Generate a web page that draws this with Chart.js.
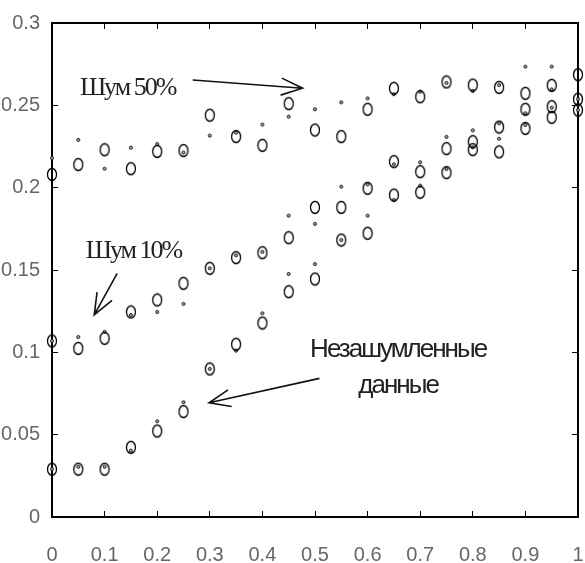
<!DOCTYPE html>
<html lang="ru">
<head>
<meta charset="UTF-8">
<title>Шум</title>
<script src="https://cdn.jsdelivr.net/npm/chart.js@4"></script>
<style>
  html, body { margin: 0; padding: 0; background: #fff; }
  #wrap { width: 585px; height: 563px; }
</style>
</head>
<body>
<div id="wrap"><canvas id="chart" width="585" height="563"></canvas></div>
<script>
const xs = [0, 0.05, 0.1, 0.15, 0.2, 0.25, 0.3, 0.35, 0.4, 0.45, 0.5,
            0.55, 0.6, 0.65, 0.7, 0.75, 0.8, 0.85, 0.9, 0.95, 1];

// open circles
const noise50 = [0.208, 0.214, 0.223, 0.2115, 0.222, 0.2225, 0.244, 0.231, 0.2257, 0.251, 0.235,
                 0.231, 0.2476, 0.2603, 0.2552, 0.2642, 0.2623, 0.2609, 0.2573, 0.2621, 0.2686];
const noise10 = [0.1069, 0.1024, 0.1085, 0.1245, 0.1318, 0.1419, 0.151, 0.1575, 0.1605, 0.1696, 0.188,
                 0.188, 0.1996, 0.2158, 0.2097, 0.2237, 0.2279, 0.2368, 0.2476, 0.2492, 0.2537];
const clean = [0.029, 0.029, 0.029, 0.0423, 0.0522, 0.064, 0.0899, 0.1049, 0.1178, 0.1368, 0.1445,
               0.1682, 0.1723, 0.1955, 0.1972, 0.2091, 0.2231, 0.2217, 0.236, 0.2427, 0.2471];

// small dots
const noise50Dots = [0.218, 0.229, 0.2115, 0.2243, 0.2265, 0.2213, 0.2316, 0.2334, 0.2383, 0.2431, 0.2476,
                     0.2518, 0.2542, 0.2567, 0.2583, 0.2636, 0.2587, 0.2623, 0.2735, 0.2735, 0.2537];
const noise10Dots = [0.1069, 0.1093, 0.1125, 0.1227, 0.1245, 0.1294, 0.151, 0.1589, 0.161, 0.183, 0.178,
                     0.2006, 0.202, 0.2142, 0.2154, 0.2308, 0.2348, 0.2391, 0.2452, 0.2597, 0.2502];
const cleanDots = [0.029, 0.0305, 0.0305, 0.0403, 0.0581, 0.0697, 0.0899, 0.101, 0.1237, 0.1476, 0.1536,
                   0.1682, 0.183, 0.1925, 0.2012, 0.2113, 0.2245, 0.2297, 0.238, 0.2486, 0.2471];

const xTicks = [0, 0.1, 0.2, 0.3, 0.4, 0.5, 0.6, 0.7, 0.8, 0.9, 1];
const yTicks = [0, 0.05, 0.1, 0.15, 0.2, 0.25, 0.3];

// labels and arrows, in data units
const notes = [
  { text: 'Шум 50%', x: 0.053, y: 0.2563, font: '26px "Liberation Serif"', align: 'left' },
  { text: 'Шум 10%', x: 0.064, y: 0.1573, font: '26px "Liberation Serif"', align: 'left' },
  { text: 'Незашумленные', x: 0.658, y: 0.0972, font: '26px "Liberation Sans"', align: 'center' },
  { text: 'данные', x: 0.658, y: 0.0753, font: '26px "Liberation Sans"', align: 'center' }
];
const arrows = [
  { from: [0.2675, 0.2654], to: [0.4763, 0.2604] },
  { from: [0.1239, 0.148], to: [0.0803, 0.1227] },
  { from: [0.5085, 0.0842], to: [0.2985, 0.0694] }
];

function pts(ys) { return xs.map((x, i) => ({ x: x, y: ys[i] })); }

function ring(w, h) {
  const c = document.createElement('canvas');
  c.width = w + 3; c.height = h + 3;
  const g = c.getContext('2d');
  g.strokeStyle = '#000';
  g.lineWidth = 1.3;
  g.beginPath();
  g.ellipse(c.width / 2, c.height / 2, w / 2, h / 2, 0, 0, Math.PI * 2);
  g.stroke();
  return c;
}
const ringImg = ring(9, 12);

function circles(label, ys) {
  return { label: label, data: pts(ys), pointStyle: ringImg, pointRadius: 6, clip: false };
}
function dots(label, ys) {
  return { label: label, data: pts(ys), pointStyle: 'circle', pointRadius: 1.6,
           backgroundColor: '#999', borderColor: '#111', borderWidth: 0.8, clip: false };
}

const notesPlugin = {
  id: 'notes',
  afterDraw(chart) {
    const { ctx, scales } = chart;
    ctx.save();
    ctx.strokeStyle = '#111';
    ctx.lineWidth = 1.6;
    arrows.forEach(ar => {
      const x1 = scales.x.getPixelForValue(ar.from[0]), y1 = scales.y.getPixelForValue(ar.from[1]);
      const x2 = scales.x.getPixelForValue(ar.to[0]), y2 = scales.y.getPixelForValue(ar.to[1]);
      const ang = Math.atan2(y2 - y1, x2 - x1), h = 23, sp = 0.38;
      ctx.beginPath();
      ctx.moveTo(x1, y1); ctx.lineTo(x2, y2);
      ctx.moveTo(x2 - h * Math.cos(ang - sp), y2 - h * Math.sin(ang - sp));
      ctx.lineTo(x2, y2);
      ctx.lineTo(x2 - h * Math.cos(ang + sp), y2 - h * Math.sin(ang + sp));
      ctx.stroke();
    });
    ctx.fillStyle = '#222';
    ctx.textBaseline = 'alphabetic';
    ctx.letterSpacing = '-2px';
    notes.forEach(n => {
      ctx.font = n.font;
      ctx.textAlign = n.align;
      ctx.fillText(n.text, scales.x.getPixelForValue(n.x), scales.y.getPixelForValue(n.y));
    });
    ctx.restore();
  }
};

const fmt = v => String(+Number(v).toFixed(2));
const tickFont = { size: 20 };
const innerGrid = { display: true, drawOnChartArea: false, drawTicks: true, tickLength: -6, color: '#000', lineWidth: 1 };
const frame = { display: true, color: '#000', width: 2 };

new Chart(document.getElementById('chart'), {
  type: 'scatter',
  data: {
    datasets: [
      circles('Шум 50%', noise50),
      circles('Шум 10%', noise10),
      circles('Незашумленные данные', clean),
      dots('Шум 50% (точки)', noise50Dots),
      dots('Шум 10% (точки)', noise10Dots),
      dots('Незашумленные данные (точки)', cleanDots)
    ]
  },
  options: {
    responsive: false,
    animation: false,
    layout: { padding: 0 },
    plugins: { legend: { display: false }, tooltip: { enabled: false } },
    scales: {
      x: {
        type: 'linear', position: 'bottom', min: 0, max: 1,
        afterBuildTicks: s => { s.ticks = xTicks.map(v => ({ value: v })); },
        afterFit: s => { s.height = 46; s.paddingLeft = 0; s.paddingRight = 0; },
        grid: innerGrid, border: frame,
        ticks: { font: tickFont, padding: 32, callback: fmt, maxRotation: 0, autoSkip: false }
      },
      x2: {
        type: 'linear', position: 'top', min: 0, max: 1,
        afterBuildTicks: s => { s.ticks = xTicks.map(v => ({ value: v })); },
        afterFit: s => { s.height = 23; s.paddingLeft = 0; s.paddingRight = 0; },
        grid: innerGrid, border: frame,
        ticks: { display: false }
      },
      y: {
        type: 'linear', position: 'left', min: 0, max: 0.3,
        afterBuildTicks: s => { s.ticks = yTicks.map(v => ({ value: v })); },
        afterFit: s => { s.width = 52; s.paddingTop = 0; s.paddingBottom = 0; },
        grid: innerGrid, border: frame,
        ticks: { font: tickFont, padding: 18, callback: fmt, autoSkip: false }
      },
      y2: {
        type: 'linear', position: 'right', min: 0, max: 0.3,
        afterBuildTicks: s => { s.ticks = yTicks.map(v => ({ value: v })); },
        afterFit: s => { s.width = 6; s.paddingTop = 0; s.paddingBottom = 0; },
        grid: innerGrid, border: frame,
        ticks: { display: false }
      }
    }
  },
  plugins: [notesPlugin]
});
</script>
</body>
</html>
